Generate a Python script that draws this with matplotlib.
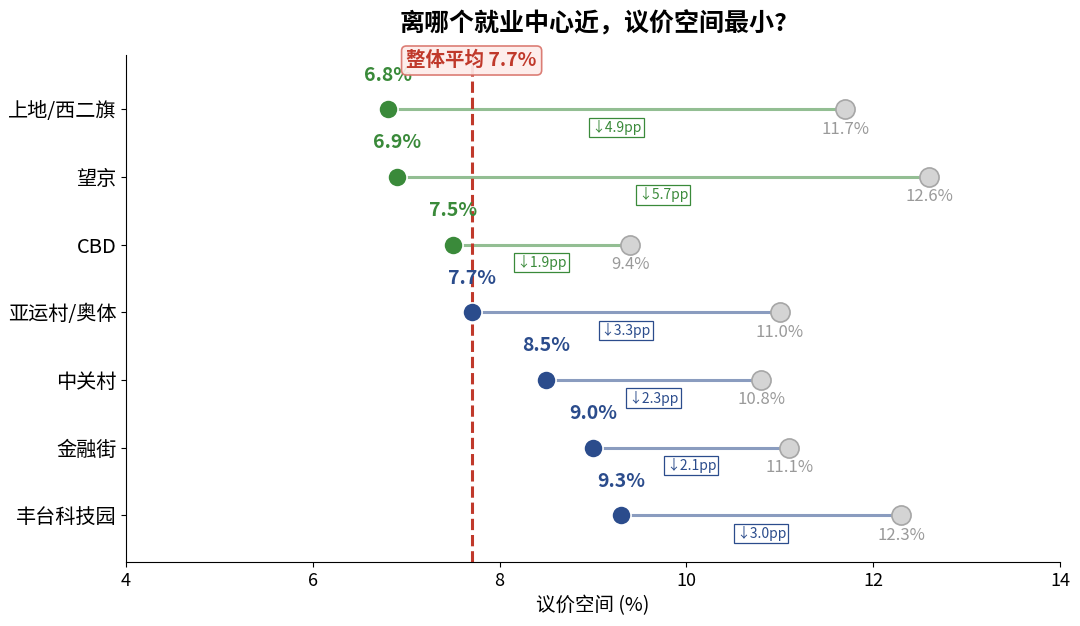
import numpy as np
import matplotlib.pyplot as plt

plt.rcParams['font.family'] = ['Noto Sans CJK SC', 'DejaVu Sans']

areas = ['上地/西二旗', '望京', 'CBD', '亚运村/奥体', '中关村', '金融街', '丰台科技园']
near = [6.8, 6.9, 7.5, 7.7, 8.5, 9.0, 9.3]
far = [11.7, 12.6, 9.4, 11.0, 10.8, 11.1, 12.3]
avg = 7.7

green = '#3a8a3a'
blue = '#2b4c8c'

fig = plt.figure(figsize=(10.8, 6.26), dpi=100)
ax = fig.add_axes([0.1167, 0.1022, 0.8648, 0.8098])

y = np.arange(len(areas))
for i in range(len(areas)):
    c = green if near[i] < avg else blue
    ax.plot([near[i], far[i]], [y[i], y[i]], color=c, alpha=0.55, lw=2.2, zorder=1)
    ax.scatter(far[i], y[i], s=190, color='#d4d4d4', edgecolor='#a6a6a6', lw=1.2, zorder=3)
    ax.scatter(near[i], y[i], s=190, color=c, edgecolor='white', lw=1.2, zorder=4)
    ax.annotate(f'{near[i]:.1f}%', (near[i], y[i]), xytext=(0, 24.5), textcoords='offset points',
                ha='center', va='center', color=c, fontsize=14, fontweight='bold', zorder=5)
    ax.annotate(f'{far[i]:.1f}%', (far[i], y[i]), xytext=(0, -14.4), textcoords='offset points',
                ha='center', va='center', color='#9a9a9a', fontsize=12)
    diff = far[i] - near[i]
    ax.annotate(f'↓{diff:.1f}pp', ((near[i] + far[i]) / 2, y[i]), xytext=(0, -13),
                textcoords='offset points', ha='center', va='center', color=c, fontsize=10,
                bbox=dict(boxstyle='square,pad=0.15', fc='white', ec=c, lw=0.9))

ax.axvline(avg, color='#c0392b', ls='--', lw=2.2, zorder=2)
ax.text(avg, -0.72, f'整体平均 {avg}%', ha='center', va='center', color='#c0392b',
        fontsize=14, fontweight='bold', zorder=6,
        bbox=dict(boxstyle='round,pad=0.25', fc='#fdecea', ec='#d9736a', lw=1.2, alpha=0.92))

ax.set_xlim(4, 14)
ax.set_ylim(len(areas) - 1 + 0.69, -0.8)
ax.set_yticks(y)
ax.set_yticklabels(areas, fontsize=14.5)
ax.set_xticks([4, 6, 8, 10, 12, 14])
ax.tick_params(axis='x', labelsize=13)
ax.set_xlabel('议价空间 (%)', fontsize=14)
ax.spines['top'].set_visible(False)
ax.spines['right'].set_visible(False)
ax.set_title('离哪个就业中心近，议价空间最小?', fontsize=18, fontweight='bold', pad=17)

plt.savefig('out.png', dpi=100)
